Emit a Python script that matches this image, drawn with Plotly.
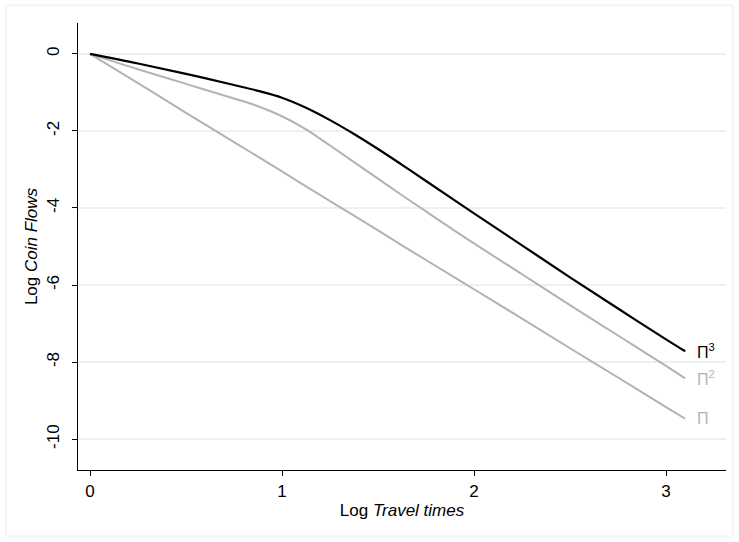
import plotly.graph_objects as go

# Log travel time grid shared by all three curves
log_travel = [0.0, 0.25, 0.5, 0.75, 0.875, 1.0, 1.125, 1.25, 1.375, 1.5, 1.625,
              1.75, 2.0, 2.25, 2.5, 2.75, 3.0, 3.1]

# Log coin flows for each order of Π
flows_pi1 = [0.0, -0.76, -1.53, -2.29, -2.67, -3.05, -3.44, -3.82, -4.20, -4.58, -4.97,
             -5.35, -6.11, -6.87, -7.64, -8.40, -9.17, -9.47]
flows_pi2 = [0.0, -0.40, -0.78, -1.16, -1.36, -1.62, -1.96, -2.38, -2.81, -3.24, -3.67,
             -4.09, -4.92, -5.72, -6.52, -7.31, -8.10, -8.42]
flows_pi3 = [0.0, -0.25, -0.52, -0.81, -0.96, -1.14, -1.40, -1.72, -2.08, -2.47, -2.88,
             -3.30, -4.14, -4.97, -5.80, -6.61, -7.41, -7.72]

series = [
    ("Π", flows_pi1, "#b3b3b3"),
    ("Π<sup>2</sup>", flows_pi2, "#b3b3b3"),
    ("Π<sup>3</sup>", flows_pi3, "#000000"),
]

y_ticks = [0, -2, -4, -6, -8, -10]
x_ticks = [0, 1, 2, 3]

FONT = "Liberation Sans, Arial, Helvetica, sans-serif"

fig = go.Figure()
for name, ys, color in series:
    fig.add_trace(go.Scatter(
        x=log_travel, y=ys, mode="lines", name=name,
        line=dict(color=color, width=2.2 if color == "#000000" else 2,
                  shape="spline", smoothing=1.0),
        showlegend=False, hoverinfo="skip",
    ))
    fig.add_annotation(
        x=log_travel[-1], y=ys[-1], text=name, showarrow=False,
        xanchor="left", yanchor="middle", xshift=10,
        font=dict(family=FONT, size=16, color=color),
    )

fig.update_layout(
    width=739, height=542,
    margin=dict(l=78, r=13, t=23, b=72),
    paper_bgcolor="white", plot_bgcolor="white",
    font=dict(family=FONT, size=17, color="#000000"),
    shapes=[dict(
        type="rect", xref="paper", yref="paper",
        x0=-0.111, x1=1.0108, y0=-0.148, y1=1.040,
        line=dict(color="#e9edf0", width=1), fillcolor="rgba(0,0,0,0)",
        layer="below",
    )],
)

fig.update_xaxes(
    range=[-0.0625, 3.3125], tickvals=x_ticks, ticktext=[str(v) for v in x_ticks],
    showline=True, linecolor="black", linewidth=1.3,
    ticks="outside", ticklen=5, tickcolor="black", tickwidth=1,
    showgrid=False, zeroline=False,
    title=dict(text="Log <i>Travel times</i>", standoff=4, font=dict(size=17)),
    tickfont=dict(size=17),
)
fig.update_yaxes(
    range=[-10.8, 0.8], tickvals=y_ticks, ticktext=[str(v) for v in y_ticks],
    showline=True, linecolor="black", linewidth=1.3,
    ticks="outside", ticklen=5, tickcolor="black", tickwidth=1,
    showgrid=True, gridcolor="#eaf0f4", gridwidth=1.5,
    zeroline=False, tickangle=-90, ticklabelstandoff=6,
    title=dict(text="Log <i>Coin Flows</i>", standoff=2, font=dict(size=17)),
    tickfont=dict(size=17),
)

fig.write_html("out.html")
